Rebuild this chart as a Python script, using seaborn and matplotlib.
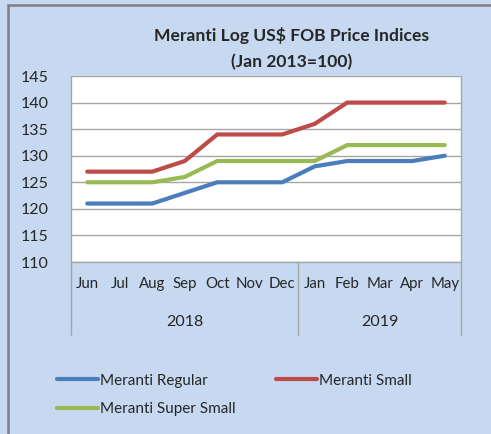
import pandas as pd
import matplotlib
matplotlib.use("Agg")
import matplotlib.pyplot as plt
import matplotlib.transforms as mtransforms
from matplotlib.patches import Rectangle
import seaborn as sns

# === data ===
months = ["Jun", "Jul", "Aug", "Sep", "Oct", "Nov", "Dec",
          "Jan", "Feb", "Mar", "Apr", "May"]
years = ["2018", "2019"]
months_per_year = [7, 5]
regular = [121, 121, 121, 123, 125, 125, 125, 128, 129, 129, 129, 130]
small = [127, 127, 127, 129, 134, 134, 134, 136, 140, 140, 140, 140]
super_small = [125, 125, 125, 126, 129, 129, 129, 129, 132, 132, 132, 132]
series_names = ["Meranti Regular", "Meranti Small", "Meranti Super Small"]
colors = ["#4A7EBB", "#BE4B48", "#98B954"]
yticks = [110, 115, 120, 125, 130, 135, 140, 145]

# long format for seaborn
df = pd.DataFrame({
    "month": months * 3,
    "index": regular + small + super_small,
    "series": [n for n in series_names for _ in months],
})

sns.set_style("white")
plt.rcParams["font.family"] = ["Lato", "DejaVu Sans"]

bg = "#C6D9F1"
fig = plt.figure(figsize=(4.91, 4.34), dpi=100, facecolor=bg)
ax = fig.add_axes([71 / 491, 1 - 262 / 434, 390 / 491, 186 / 434])
ax.set_facecolor("white")

sns.lineplot(data=df, x="month", y="index", hue="series",
             palette=dict(zip(series_names, colors)),
             linewidth=3, sort=False, ax=ax, legend=False)

ax.set_xlim(-0.5, len(months) - 0.5)
ax.set_ylim(yticks[0], yticks[-1])
ax.set_yticks(yticks)
ax.yaxis.grid(True, color="#A6A6A6", linewidth=1)
ax.set_axisbelow(True)
ax.tick_params(axis="y", length=0, pad=16, labelsize=11.5, colors="#262626")
ax.tick_params(axis="x", length=0, pad=11, labelsize=10.8, colors="#262626")
ax.set_xlabel("")
ax.set_ylabel("")
for side in ["left", "right", "bottom"]:
    ax.spines[side].set_color("#A6A6A6")
    ax.spines[side].set_linewidth(1)
ax.spines["top"].set_visible(False)

# year group labels and separators below the axis
trans = mtransforms.blended_transform_factory(ax.transData, ax.transAxes)
start = -0.5
bounds = [start]
for yr, n in zip(years, months_per_year):
    mid = start + n / 2
    ax.text(mid, -0.32, yr, transform=trans, ha="center", va="center",
            fontsize=11.5, color="#262626")
    start += n
    bounds.append(start)
for b in bounds:
    ax.plot([b, b], [0, -0.39], transform=trans, color="#A6A6A6",
            linewidth=1, clip_on=False)

# title
fig.text(292 / 491, 1 - 35 / 434, "Meranti Log US$ FOB Price Indices",
         ha="center", va="center", fontsize=12.6, fontweight="bold")
fig.text(292 / 491, 1 - 62 / 434, "(Jan 2013=100)",
         ha="center", va="center", fontsize=12.6, fontweight="bold")

# legend (column-major, so order Regular, Super Small, Small)
handles = [plt.Line2D([], [], color=c, linewidth=3) for c in colors]
order = [0, 2, 1]
fig.legend([handles[i] for i in order], [series_names[i] for i in order],
           ncol=2, loc="upper left", bbox_to_anchor=(43 / 491, 1 - 360 / 434),
           frameon=False, fontsize=11, handlelength=2.7, handletextpad=0.15,
           labelspacing=0.95, columnspacing=2.6, labelcolor="#262626")

# outer chart border
fig.add_artist(Rectangle((8 / 491, -0.05), 1.2, 1.05 - 5 / 434,
                         transform=fig.transFigure, fill=False,
                         edgecolor="#7F7F7F", linewidth=1.8))

fig.savefig("out.png", dpi=100, facecolor=bg)
